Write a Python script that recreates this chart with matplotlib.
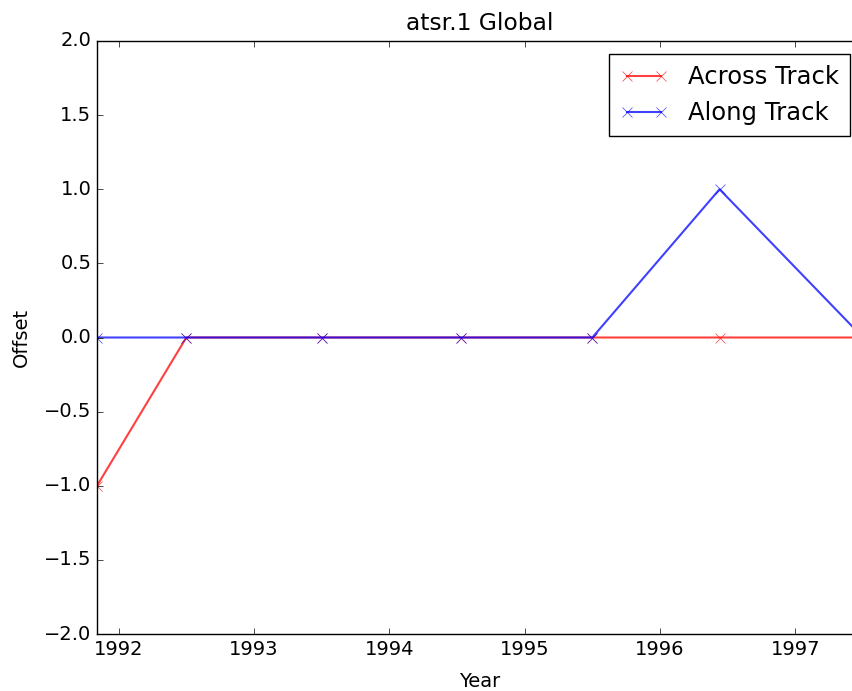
import matplotlib
matplotlib.use("Agg")
import matplotlib.pyplot as plt

# data (decimal years)
years = [1991.84, 1992.5, 1993.5, 1994.53, 1995.5, 1996.44, 1997.5]
across_track = [-1.0, 0.0, 0.0, 0.0, 0.0, 0.0, 0.0]
along_track = [0.0, 0.0, 0.0, 0.0, 0.0, 1.0, 0.0]

plt.style.use("classic")
plt.rcParams["font.size"] = 14

fig = plt.figure(figsize=(8.53, 6.91), dpi=100, facecolor="white")
ax = fig.add_axes([97 / 853, 57 / 691, 766 / 853, 593 / 691])

ax.plot(years, across_track, "x-", color="red", alpha=0.75, lw=1.5,
        markersize=7, label="Across Track")
ax.plot(years, along_track, "x-", color="blue", alpha=0.75, lw=1.5,
        markersize=7, label="Along Track")

ax.set_xlim(years[0], years[-1])
ax.set_ylim(-2.0, 2.0)
ax.set_xticks([1992, 1993, 1994, 1995, 1996, 1997])
ax.set_xticklabels(["1992", "1993", "1994", "1995", "1996", "1997"])
ax.set_xlabel("Year", labelpad=10)
ax.set_ylabel("Offset", labelpad=9.5)
ax.set_title("atsr.1 Global", fontsize=16.8, pad=8)
ax.legend(loc="upper right", fontsize=17.5, handletextpad=0.8,
          borderaxespad=0.55, borderpad=0.45)

fig.savefig("out.png", dpi=100, facecolor="white")
